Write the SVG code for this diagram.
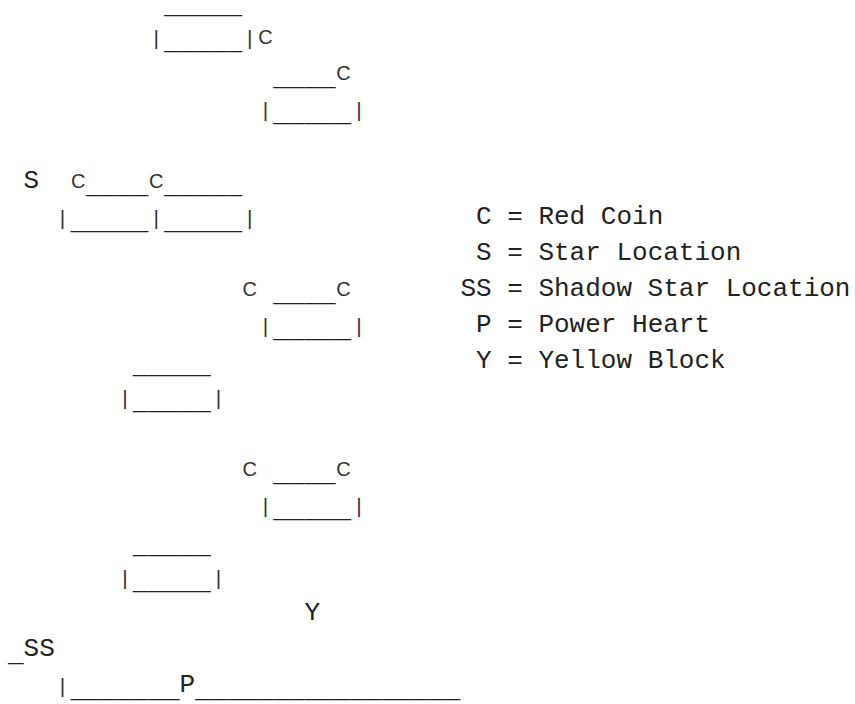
<svg xmlns="http://www.w3.org/2000/svg" width="855" height="704" viewBox="0 0 855 704">
<style>
.m{font-family:"Liberation Mono","Courier New",monospace;font-size:26px;fill:#222}
.u{font-family:"Liberation Mono","Courier New",monospace;font-size:26px;fill:#222}
.s{font-family:"Liberation Sans",Arial,sans-serif;font-size:20px;fill:#333;text-anchor:middle}
.p{font-family:"Liberation Sans",Arial,sans-serif;font-size:21px;fill:#333;text-anchor:middle}
</style>
<rect width="855" height="704" fill="#fff"/>
<g id="platform-top">
<text class="u" x="164" y="12.5">_____</text>
<text class="p" x="156.2" y="45">|</text>
<text class="u" x="164" y="48.5">_____</text>
<text class="p" x="249.8" y="45">|</text>
<text class="s" x="265.4" y="44">C</text>
</g>
<g id="platform-2">
<text class="u" x="273.2" y="84.5">____</text>
<text class="s" x="343.4" y="80">C</text>
<text class="p" x="265.4" y="117">|</text>
<text class="u" x="273.2" y="120.5">_____</text>
<text class="p" x="359" y="117">|</text>
</g>
<g id="platform-star">
<text class="m" x="23.6" y="188">S</text>
<text class="s" x="78.2" y="188">C</text>
<text class="u" x="86" y="192.5">____</text>
<text class="s" x="156.2" y="188">C</text>
<text class="u" x="164" y="192.5">_____</text>
<text class="p" x="62.6" y="225">|</text>
<text class="u" x="70.4" y="228.5">_____</text>
<text class="p" x="156.2" y="225">|</text>
<text class="u" x="164" y="228.5">_____</text>
<text class="p" x="249.8" y="225">|</text>
</g>
<g id="platform-4">
<text class="s" x="249.8" y="296">C</text>
<text class="u" x="273.2" y="300.5">____</text>
<text class="s" x="343.4" y="296">C</text>
<text class="p" x="265.4" y="333">|</text>
<text class="u" x="273.2" y="336.5">_____</text>
<text class="p" x="359" y="333">|</text>
</g>
<g id="platform-5">
<text class="u" x="132.8" y="372.5">_____</text>
<text class="p" x="125" y="405">|</text>
<text class="u" x="132.8" y="408.5">_____</text>
<text class="p" x="218.6" y="405">|</text>
</g>
<g id="platform-6">
<text class="s" x="249.8" y="476">C</text>
<text class="u" x="273.2" y="480.5">____</text>
<text class="s" x="343.4" y="476">C</text>
<text class="p" x="265.4" y="513">|</text>
<text class="u" x="273.2" y="516.5">_____</text>
<text class="p" x="359" y="513">|</text>
</g>
<g id="platform-7">
<text class="u" x="132.8" y="552.5">_____</text>
<text class="p" x="125" y="585">|</text>
<text class="u" x="132.8" y="588.5">_____</text>
<text class="p" x="218.6" y="585">|</text>
</g>
<g id="yellow-block">
<text class="m" x="304.4" y="620">Y</text>
</g>
<g id="ground">
<text class="u" x="8" y="660.5">_</text>
<text class="m" x="23.6" y="656">SS</text>
<text class="p" x="62.6" y="693">|</text>
<text class="u" x="70.4" y="696.5">_______</text>
<text class="m" x="179.6" y="692">P</text>
<text class="u" x="195.2" y="696.5">_________________</text>
</g>
<g id="legend">
<text class="m" x="476" y="224">C = Red Coin</text>
<text class="m" x="476" y="260">S = Star Location</text>
<text class="m" x="460.4" y="296">SS = Shadow Star Location</text>
<text class="m" x="476" y="332">P = Power Heart</text>
<text class="m" x="476" y="368">Y = Yellow Block</text>
</g>
</svg>
